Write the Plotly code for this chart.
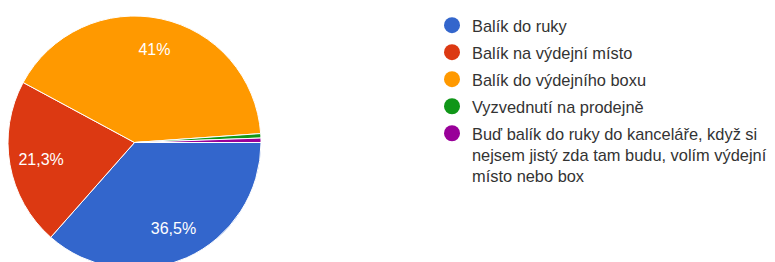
import plotly.graph_objects as go

labels = ["Balík do ruky", "Balík na výdejní místo", "Balík do výdejního boxu",
          "Vyzvednutí na prodejně",
          "Buď balík do ruky do kanceláře, když si nejsem jistý zda tam budu, volím výdejní místo nebo box"]
counts = [65, 38, 73, 1, 1]
colors = ["#3366cc", "#dc3912", "#ff9900", "#109618", "#990099"]
legend_names = [
    "Balík do ruky",
    "Balík na výdejní místo",
    "Balík do výdejního boxu",
    "Vyzvednutí na prodejně",
    "Buď balík do ruky do kanceláře, když si<br>nejsem jistý zda tam budu, volím výdejní<br>místo nebo box",
]

W, H = 775, 262
FONT = "Arial, 'Liberation Sans', sans-serif"
PIE_X = [0, 253 / W]
PIE_Y = [1 / H, 254 / H]

fig = go.Figure()
# coloured slices
fig.add_trace(go.Pie(
    labels=labels, values=counts, sort=False, direction="clockwise", rotation=90,
    marker=dict(colors=colors, line=dict(color="white", width=1)),
    textinfo="none",
    domain=dict(x=PIE_X, y=PIE_Y),
    showlegend=False, hoverinfo="label+percent",
))
# percentage labels (transparent ring, same slices)
fig.add_trace(go.Pie(
    labels=labels, values=counts, sort=False, direction="clockwise", rotation=90,
    hole=0.5,
    marker=dict(colors=["rgba(0,0,0,0)"] * 5, line=dict(width=0)),
    texttemplate=["%{percent:.3~p}"] * 3 + ["", ""],
    textposition="inside", insidetextorientation="horizontal",
    textfont=dict(color="white", size=16, family=FONT),
    domain=dict(x=PIE_X, y=PIE_Y),
    showlegend=False, hoverinfo="skip",
))

for i, name in enumerate(legend_names):
    fig.add_trace(go.Scatter(
        x=[None], y=[None], mode="markers", name=name,
        legendgroup=f"g{i}",
        marker=dict(size=16, symbol="circle", color=colors[i], line=dict(width=0)),
        showlegend=True, hoverinfo="skip",
    ))

fig.update_layout(
    width=W, height=H,
    margin=dict(l=0, r=0, t=0, b=0),
    paper_bgcolor="white", plot_bgcolor="white",
    separators=", ",
    font=dict(family=FONT, size=16.4, color="#333333"),
    xaxis=dict(visible=False), yaxis=dict(visible=False),
    legend=dict(x=424 / W, xanchor="left", y=1, yanchor="top",
                traceorder="grouped", tracegroupgap=2.7, valign="top",
                itemsizing="trace", font=dict(size=16.4, color="#333333", family=FONT),
                bgcolor="rgba(0,0,0,0)"),
)

fig.write_html("out.html")
